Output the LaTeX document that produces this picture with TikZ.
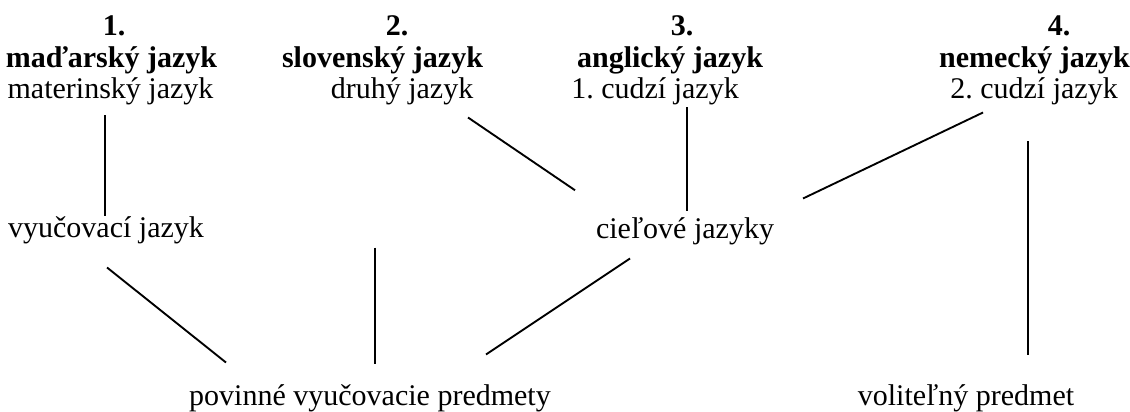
\documentclass[tikz,border=0pt]{standalone}
\usepackage{fontspec}
\setmainfont{Liberation Serif}
\usepackage{tikz}
\usetikzlibrary{calc}
\frenchspacing
\tikzset{
  txt/.style  ={inner sep=0pt, anchor=base, text height=8.5pt, text depth=2.6pt,
                font=\fontsize{12pt}{12.6pt}\selectfont, text=black},
  num/.style  ={txt, font=\fontsize{12pt}{12.6pt}\selectfont\bfseries},
  lang/.style ={txt, font=\fontsize{12pt}{12.6pt}\selectfont\bfseries},
  link/.style ={draw=black, line width=0.75pt},
}

\begin{document}
\begin{tikzpicture}[x=0.4pt, y=-0.4pt]
  \useasboundingbox (0,0) rectangle (1130,412);

  % ===== header row: number, language, role =====
  \node[num]  (num1)  at (114,36)    {1.};
  \node[lang] (lang1) at (111.5,68)  {maďarský jazyk};
  \node[txt]  (role1) at (110.5,99)  {materinský jazyk};

  \node[num]  (num2)  at (397,36)    {2.};
  \node[lang] (lang2) at (382.5,68)  {slovenský jazyk};
  \node[txt]  (role2) at (402,99)    {druhý jazyk};

  \node[num]  (num3)  at (682,36)    {3.};
  \node[lang] (lang3) at (670,68)    {anglický jazyk};
  \node[txt]  (role3) at (655,99)    {1. cudzí jazyk};

  \node[num]  (num4)  at (1059,36)   {4.};
  \node[lang] (lang4) at (1034.5,68) {nemecký jazyk};
  \node[txt]  (role4) at (1034,99)   {2. cudzí jazyk};

  % ===== middle row =====
  \node[txt] (teach)  at (106,237) {vyučovací jazyk};
  \node[txt] (target) at (685,238) {cieľové jazyky};

  % ===== bottom row =====
  \node[txt] (compul) at (370,405) {povinné vyučovacie predmety};
  \node[txt] (elect)  at (966,405) {voliteľný predmet};

  % ===== links (free lines between the texts) =====
  \draw[link] ($(role1.south)+(-5.5,9.5)$)  -- ($(teach.north)+(-1,1.25)$);
  \draw[link] ($(teach.south)+(1,23.5)$)    -- ($(compul.north)+(-144,-20.75)$);
  \draw[link] ($(role2.south)+(-27,141.5)$) -- ($(compul.north)+(5,-19.75)$);
  \draw[link] ($(compul.north)+(116,-28.75)$) -- ($(target.south)+(-55,13.5)$);
  \draw[link] ($(role2.south)+(66,11.5)$)   -- ($(target.north)+(-110,-26)$);
  \draw[link] ($(role3.south)+(32,1.5)$)    -- ($(target.north)+(2,-4.75)$);
  \draw[link] ($(role4.south)+(-51,6.5)$)   -- ($(target.north)+(118,-17.75)$);
  \draw[link] ($(role4.south)+(-6,35.5)$)   -- ($(elect.north)+(62,-28.75)$);

\end{tikzpicture}
\end{document}
